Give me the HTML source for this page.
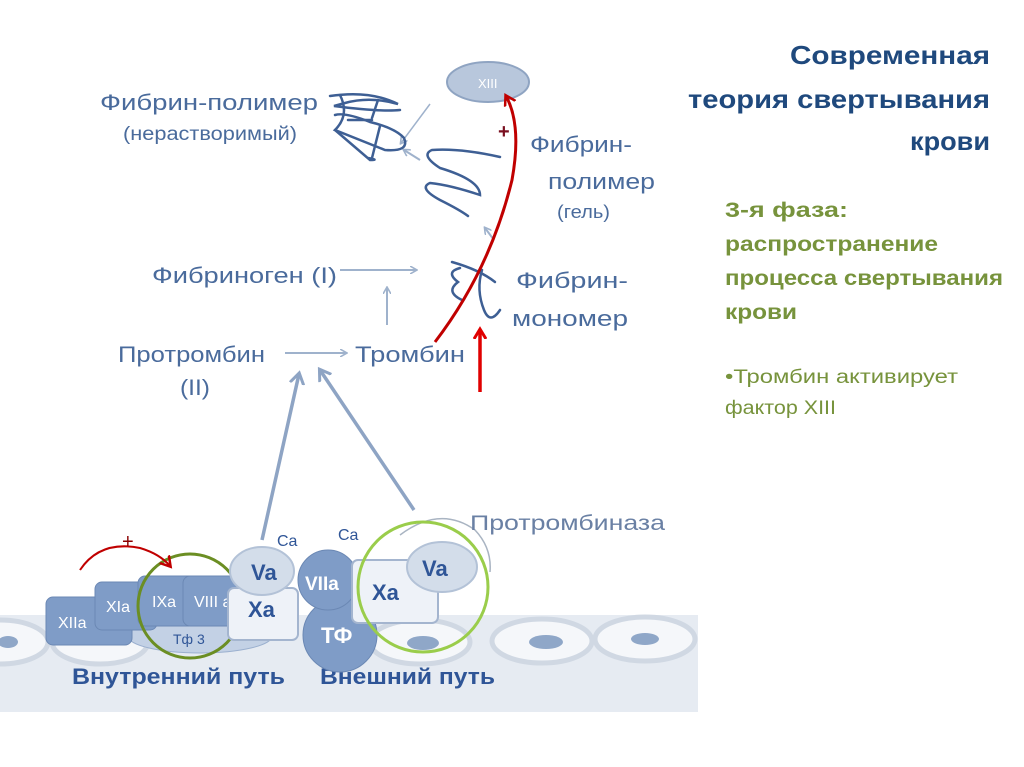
<!DOCTYPE html>
<html><head><meta charset="utf-8"><style>
html,body{margin:0;padding:0;background:#fff;}
svg{display:block;}
</style></head><body>
<svg width="1024" height="767" viewBox="0 0 1024 767" xmlns="http://www.w3.org/2000/svg" font-family="'Liberation Sans','DejaVu Sans',sans-serif">
<defs>
<marker id="ab" markerWidth="8" markerHeight="8" refX="6" refY="4" orient="auto" markerUnits="userSpaceOnUse"><path d="M0,0 L7,4 L0,8" fill="none" stroke="#9fb2cc" stroke-width="1.6"/></marker>
<marker id="abig" markerWidth="16" markerHeight="16" refX="10" refY="8" orient="auto" markerUnits="userSpaceOnUse"><path d="M0,1 L11,8 L0,15" fill="none" stroke="#8ea4c4" stroke-width="3"/></marker>
<marker id="ar" markerWidth="14" markerHeight="14" refX="9" refY="7" orient="auto" markerUnits="userSpaceOnUse"><path d="M0,1 L10,7 L0,13" fill="none" stroke="#c00000" stroke-width="2.5"/></marker>
<marker id="ar2" markerWidth="14" markerHeight="14" refX="9" refY="7" orient="auto" markerUnits="userSpaceOnUse"><path d="M0,1 L10,7 L0,13" fill="none" stroke="#e00000" stroke-width="3"/></marker>
</defs>

<!-- right text -->
<g font-weight="bold" fill="#1f497d" font-size="26">
<text x="790" y="64" textLength="200" lengthAdjust="spacingAndGlyphs">Современная</text>
<text x="688" y="108" textLength="302" lengthAdjust="spacingAndGlyphs">теория свертывания</text>
<text x="910" y="150" textLength="80" lengthAdjust="spacingAndGlyphs">крови</text>
</g>
<g font-weight="bold" fill="#77933c" font-size="21">
<text x="725" y="217" textLength="123" lengthAdjust="spacingAndGlyphs">3-я фаза:</text>
<text x="725" y="251" textLength="213" lengthAdjust="spacingAndGlyphs">распространение</text>
<text x="725" y="285" textLength="278" lengthAdjust="spacingAndGlyphs">процесса свертывания</text>
<text x="725" y="319" textLength="72" lengthAdjust="spacingAndGlyphs">крови</text>
</g>
<g fill="#77933c" font-size="19">
<text x="725" y="383" textLength="233" lengthAdjust="spacingAndGlyphs">•Тромбин активирует</text>
<text x="725" y="414" textLength="111" lengthAdjust="spacingAndGlyphs">фактор XIII</text>
</g>

<!-- bottom band -->
<rect x="0" y="615" width="698" height="97" fill="#e6ebf2"/>
<g fill="#f5f7fa" stroke="#d0d8e3" stroke-width="5">
<ellipse cx="0" cy="642" rx="48" ry="22"/>
<ellipse cx="100" cy="642" rx="48" ry="22"/>
<ellipse cx="420" cy="642" rx="50" ry="22"/>
<ellipse cx="542" cy="641" rx="50" ry="22"/>
<ellipse cx="645" cy="639" rx="50" ry="22"/>
</g>
<g fill="#8fa7c8">
<ellipse cx="8" cy="642" rx="10" ry="6"/>
<ellipse cx="423" cy="643" rx="16" ry="7"/>
<ellipse cx="546" cy="642" rx="17" ry="7"/>
<ellipse cx="645" cy="639" rx="14" ry="6"/>
</g>
<g font-weight="bold" font-size="22" fill="#2f5597">
<text x="72" y="684" textLength="213" lengthAdjust="spacingAndGlyphs">Внутренний путь</text>
<text x="320" y="684" textLength="175" lengthAdjust="spacingAndGlyphs">Внешний путь</text>
</g>

<!-- intrinsic -->
<ellipse cx="200" cy="636" rx="72" ry="17" fill="#c3d1e5" stroke="#9bb0cf"/>
<text x="173" y="644" font-size="14" fill="#2f5597">Тф 3</text>
<rect x="46" y="597" width="86" height="48" rx="7" fill="#7f9cc7" stroke="#6b88b4"/>
<text x="58" y="628" font-size="16" fill="#fff">XIIa</text>
<rect x="95" y="582" width="62" height="48" rx="7" fill="#7f9cc7" stroke="#6b88b4"/>
<text x="106" y="612" font-size="16" fill="#fff">XIa</text>
<rect x="138" y="576" width="58" height="50" rx="7" fill="#7f9cc7" stroke="#6b88b4"/>
<text x="152" y="607" font-size="16" fill="#fff">IXa</text>
<rect x="183" y="576" width="60" height="50" rx="7" fill="#7f9cc7" stroke="#6b88b4"/>
<text x="194" y="607" font-size="16" fill="#fff">VIII a</text>
<circle cx="190" cy="606" r="52" fill="none" stroke="#6b8e23" stroke-width="3"/>
<path d="M80,570 Q100,540 140,548 Q160,554 170,566" fill="none" stroke="#c00000" stroke-width="2" marker-end="url(#ar)"/>
<text x="122" y="548" font-size="20" fill="#8b0000">+</text>

<!-- middle -->
<rect x="228" y="588" width="70" height="52" rx="6" fill="#eef2f8" stroke="#a4b5cf" stroke-width="2"/>
<text x="248" y="617" font-size="22" font-weight="bold" fill="#2f5597">Xa</text>
<ellipse cx="262" cy="571" rx="32" ry="24" fill="#d3ddea" stroke="#b3c2d7" stroke-width="2"/>
<text x="251" y="580" font-size="22" font-weight="bold" fill="#2f5597">Va</text>
<text x="277" y="546" font-size="16" fill="#2f5597">Ca</text>
<text x="338" y="540" font-size="16" fill="#2f5597">Ca</text>
<circle cx="340" cy="635" r="37" fill="#7f9cc7" stroke="#6b88b4"/>
<text x="321" y="643" font-size="22" font-weight="bold" fill="#fff">ТФ</text>
<circle cx="328" cy="580" r="30" fill="#7f9cc7" stroke="#6b88b4"/>
<text x="305" y="590" font-size="19" font-weight="bold" fill="#fff">VIIa</text>

<!-- extrinsic -->
<path d="M400,535 Q440,505 475,530 Q492,548 490,572" fill="none" stroke="#a9b4c2" stroke-width="1.5"/>
<rect x="352" y="560" width="86" height="63" rx="6" fill="#eef2f8" stroke="#a4b5cf" stroke-width="2"/>
<text x="372" y="600" font-size="22" font-weight="bold" fill="#2f5597">Xa</text>
<ellipse cx="442" cy="567" rx="35" ry="25" fill="#d3ddea" stroke="#b3c2d7" stroke-width="2"/>
<text x="422" y="576" font-size="22" font-weight="bold" fill="#2f5597">Va</text>
<circle cx="423" cy="587" r="65" fill="none" stroke="#9acd4b" stroke-width="3"/>
<text x="470" y="530" font-size="21" fill="#6a80a4" textLength="195" lengthAdjust="spacingAndGlyphs">Протромбиназа</text>

<!-- big arrows -->
<line x1="262" y1="540" x2="299" y2="374" stroke="#8ea4c4" stroke-width="3.5" marker-end="url(#abig)"/>
<line x1="414" y1="510" x2="320" y2="370" stroke="#8ea4c4" stroke-width="3.5" marker-end="url(#abig)"/>

<!-- upper diagram text -->
<g fill="#4a6b9c" font-size="22">
<text x="100" y="110" textLength="218" lengthAdjust="spacingAndGlyphs">Фибрин-полимер</text>
<text x="123" y="140" font-size="19" textLength="174" lengthAdjust="spacingAndGlyphs">(нерастворимый)</text>
<text x="530" y="152" textLength="102" lengthAdjust="spacingAndGlyphs">Фибрин-</text>
<text x="548" y="189" textLength="107" lengthAdjust="spacingAndGlyphs">полимер</text>
<text x="557" y="218" font-size="18" textLength="53" lengthAdjust="spacingAndGlyphs">(гель)</text>
<text x="152" y="283" textLength="185" lengthAdjust="spacingAndGlyphs">Фибриноген (I)</text>
<text x="516" y="288" textLength="112" lengthAdjust="spacingAndGlyphs">Фибрин-</text>
<text x="512" y="326" textLength="116" lengthAdjust="spacingAndGlyphs">мономер</text>
<text x="118" y="362" textLength="147" lengthAdjust="spacingAndGlyphs">Протромбин</text>
<text x="180" y="395" textLength="30" lengthAdjust="spacingAndGlyphs">(II)</text>
<text x="355" y="362" textLength="110" lengthAdjust="spacingAndGlyphs">Тромбин</text>
</g>
<line x1="340" y1="270" x2="416" y2="270" stroke="#9fb2cc" stroke-width="2" marker-end="url(#ab)"/>
<line x1="285" y1="353" x2="346" y2="353" stroke="#9fb2cc" stroke-width="2" marker-end="url(#ab)"/>
<line x1="387" y1="325" x2="387" y2="288" stroke="#9fb2cc" stroke-width="2" marker-end="url(#ab)"/>
<line x1="430" y1="104" x2="401" y2="143" stroke="#9fb2cc" stroke-width="1.5" marker-end="url(#ab)"/>
<line x1="420" y1="160" x2="404" y2="150" stroke="#9fb2cc" stroke-width="2" marker-end="url(#ab)"/>
<line x1="494" y1="240" x2="485" y2="228" stroke="#9fb2cc" stroke-width="2" marker-end="url(#ab)"/>

<!-- fibrin squiggles -->
<g fill="none" stroke="#3e5f94" stroke-width="2.5" stroke-linecap="round">
<path d="M330,96 Q370,90 398,104 Q370,96 345,103 L334,106 Q380,112 400,110"/>
<path d="M340,95 Q350,115 335,130 Q360,140 385,150 Q410,152 404,138 Q395,128 370,122 Q345,112 335,115"/>
<path d="M335,130 L370,160 Q380,160 368,158"/>
<path d="M378,100 L372,118 M380,126 L372,158 M348,120 L372,120"/>
<path d="M500,157 Q460,148 432,150 Q420,155 440,168 Q480,180 480,195 Q450,185 430,183 Q418,188 440,200 Q460,210 468,216"/>
<path d="M452,262 Q480,270 495,282 M460,268 Q445,272 458,282 Q445,292 462,300"/>
<path d="M482,270 Q476,290 484,310 Q490,325 500,310"/>
</g>

<!-- XIII -->
<ellipse cx="488" cy="82" rx="41" ry="20" fill="#b8c7dc" stroke="#8fa4c2" stroke-width="2"/>
<text x="478" y="88" font-size="13" fill="#fff">XIII</text>

<!-- red arrows -->
<path d="M435,342 Q490,270 512,180 Q522,125 506,96" fill="none" stroke="#c00000" stroke-width="3" marker-end="url(#ar)"/>
<line x1="480" y1="392" x2="480" y2="330" stroke="#e00000" stroke-width="3.5" marker-end="url(#ar2)"/>
<text x="498" y="138" font-size="20" font-weight="bold" fill="#7a1020">+</text>
</svg>
</body></html>
